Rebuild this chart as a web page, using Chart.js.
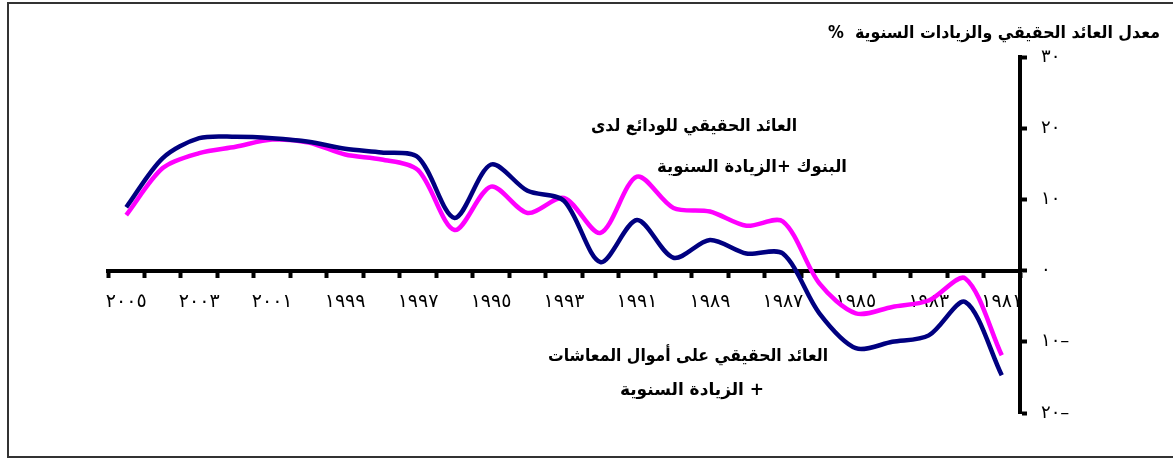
<!DOCTYPE html>
<html>
<head>
<meta charset="utf-8">
<script src="https://cdn.jsdelivr.net/npm/chart.js@4/dist/chart.umd.min.js"></script>
<style>
  body { margin: 0; background: #fff; }
  #wrap { position: relative; width: 1173px; height: 461px; overflow: hidden; }
  #frame { position: absolute; left: 7px; top: 2px; width: 1200px; height: 456px; border: 2px solid #333; box-sizing: border-box; }
  canvas { position: absolute; left: 0; top: 0; }
</style>
</head>
<body>
<div id="wrap">
  <div id="frame"></div>
  <canvas id="returnsChart" width="1173" height="461"></canvas>
</div>
<script>
const years = [2005, 2004, 2003, 2002, 2001, 2000, 1999, 1998, 1997, 1996, 1995, 1994, 1993,
               1992, 1991, 1990, 1989, 1988, 1987, 1986, 1985, 1984, 1983, 1982, 1981];

// magenta: real return on bank deposits + annual increase
const bankDeposits = [7.8, 14.4, 16.5, 17.4, 18.4, 18.0, 16.3, 15.6, 14.1, 5.7, 11.8, 8.1, 10.2,
                      5.3, 13.2, 8.8, 8.3, 6.3, 6.9, -1.8, -6.0, -5.1, -4.2, -1.1, -11.9];

// navy: real return on pension funds + annual increase
const pensionFunds = [8.9, 15.8, 18.6, 18.8, 18.6, 18.1, 17.1, 16.6, 15.9, 7.4, 14.9, 11.2, 9.8,
                      1.2, 7.1, 1.8, 4.3, 2.4, 2.4, -6.0, -10.9, -10.0, -9.1, -4.4, -14.7];

const yTicks = [30, 20, 10, 0, -10, -20];

const titleText = 'معدل العائد الحقيقي والزيادات السنوية  %';
const bankLabel = ['العائد الحقيقي للودائع لدى', 'البنوك +الزيادة السنوية'];
const pensionLabel = ['العائد الحقيقي على أموال المعاشات', '+ الزيادة السنوية'];

const arabicDigits = '٠١٢٣٤٥٦٧٨٩';
const toArabic = (n) => String(Math.abs(n)).replace(/\d/g, d => arabicDigits[d]) + (n < 0 ? '–' : '');

const arabicFont = '"DejaVu Sans", sans-serif';

const textPlugin = {
  id: 'arabicText',
  afterDraw(chart) {
    const ctx = chart.ctx;
    const put = (text, cx, cy, size, width) => {
      ctx.save();
      ctx.font = 'bold ' + size + 'px ' + arabicFont;
      ctx.direction = 'rtl';
      ctx.textAlign = 'center';
      ctx.textBaseline = 'middle';
      ctx.fillStyle = '#000';
      ctx.fillText(text, cx, cy, width);
      ctx.restore();
    };
    put(titleText, 994, 34, 17, 332);
    put(bankLabel[0], 694, 127, 17, 206);
    put(bankLabel[1], 752, 168, 17, 190);
    put(pensionLabel[0], 688, 357, 17, 280);
    put(pensionLabel[1], 692, 391, 17, 148);
  }
};

new Chart(document.getElementById('returnsChart'), {
  type: 'line',
  data: {
    labels: years,
    datasets: [
      {
        label: 'pension',
        data: pensionFunds,
        borderColor: '#000080',
        backgroundColor: '#000080',
        borderWidth: 4.5,
        tension: 0.3,
        pointRadius: 0,
        fill: false,
      },
      {
        label: 'bank',
        data: bankDeposits,
        borderColor: '#ff00ff',
        backgroundColor: '#ff00ff',
        borderWidth: 4.5,
        tension: 0.3,
        pointRadius: 0,
        fill: false,
      },
    ]
  },
  options: {
    responsive: false,
    animation: false,
    layout: {
      padding: { left: 108, top: 57, right: 0, bottom: 48 }
    },
    scales: {
      x: {
        position: { y: 0 },
        offset: true,
        border: { color: '#000', width: 4 },
        grid: {
          offset: true,
          drawOnChartArea: false,
          drawTicks: true,
          tickLength: 5,
          tickWidth: 4,
          tickColor: '#000',
        },
        ticks: {
          autoSkip: false,
          maxRotation: 0,
          padding: 15,
          color: '#000',
          font: { family: arabicFont, size: 19 },
          callback: (val, i) => i % 2 === 0 ? toArabic(years[i]) : '',
        },
      },
      y: {
        position: 'right',
        min: -20,
        max: 30,
        afterFit: (scale) => { scale.width = 153; },
        afterBuildTicks: (scale) => { scale.ticks = yTicks.map(v => ({ value: v })); },
        border: { color: '#000', width: 4 },
        grid: {
          drawOnChartArea: false,
          tickLength: 7,
          tickWidth: 4,
          tickColor: '#000',
        },
        ticks: {
          padding: 14,
          color: '#000',
          font: { family: arabicFont, size: 18 },
          callback: (val) => toArabic(val),
        },
      },
    },
    plugins: {
      legend: { display: false },
      tooltip: { enabled: false },
    },
  },
  plugins: [textPlugin],
});
</script>
</body>
</html>
